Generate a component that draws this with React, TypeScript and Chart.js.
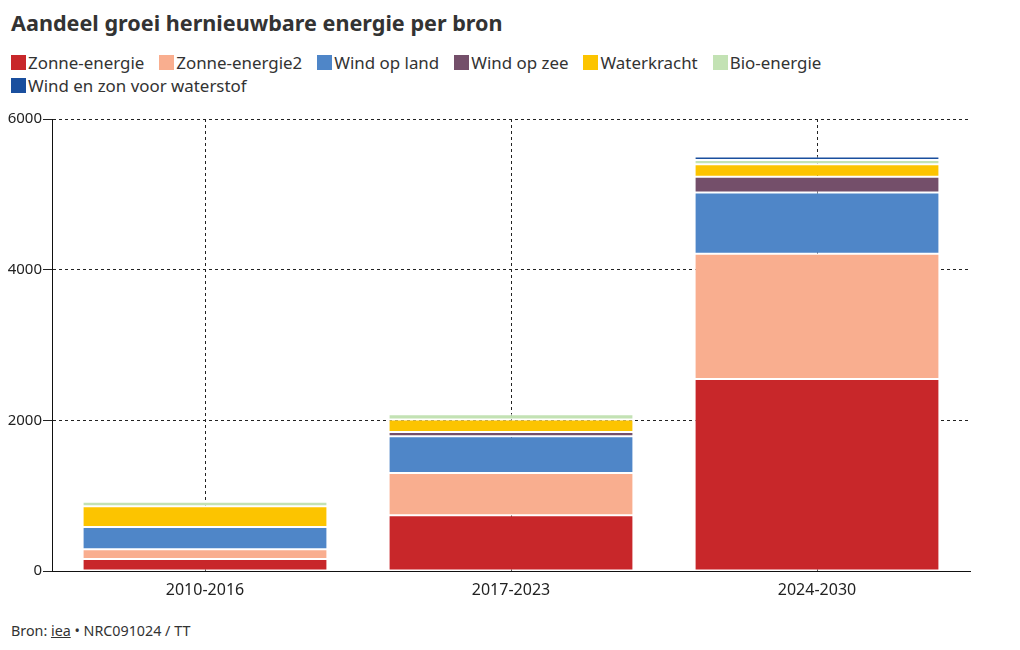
import React, { useEffect, useRef } from "react";
import { Chart, registerables } from "chart.js";

Chart.register(...registerables);

const categories = ["2010-2016", "2017-2023", "2024-2030"];
const seriesNames = [
  "Zonne-energie",
  "Zonne-energie2",
  "Wind op land",
  "Wind op zee",
  "Waterkracht",
  "Bio-energie",
  "Wind en zon voor waterstof",
];
const seriesColors = ["#c8272a", "#f9ae8f", "#4f86c8", "#744f6a", "#fcc400", "#c3e2b4", "#1a4f9e"];
const zonne = [160, 740, 2550];
const zonne2 = [130, 560, 1660];
const windLand = [295, 490, 815];
const windZee = [0, 55, 210];
const water = [275, 165, 165];
const bio = [60, 70, 55];
const waterstof = [0, 0, 48];
const seriesValues = [zonne, zonne2, windLand, windZee, water, bio, waterstof];
const yTicks = [0, 2000, 4000, 6000];

const FONT = "'Noto Sans', 'DejaVu Sans', sans-serif";
const TEXT = "#333333";

export default function App() {
  const ref = useRef<HTMLCanvasElement | null>(null);

  useEffect(() => {
    if (!ref.current) return;
    const chart = new Chart(ref.current, {
      type: "bar",
      data: {
        labels: categories,
        datasets: seriesNames.map((name, i) => ({
          label: name,
          data: seriesValues[i],
          backgroundColor: seriesColors[i],
          borderColor: "#ffffff",
          borderWidth: 1,
          borderSkipped: false,
          categoryPercentage: 1,
          barPercentage: 0.8,
        })),
      },
      options: {
        responsive: false,
        animation: false,
        maintainAspectRatio: false,
        layout: { padding: { top: 19, right: 50, left: 0, bottom: 0 } },
        plugins: {
          legend: { display: false },
          tooltip: { enabled: false },
          title: { display: false },
        },
        scales: {
          x: {
            stacked: true,
            z: 1,
            afterFit: (s: any) => {
              s.height = 39;
            },
            grid: {
              offset: false,
              color: "#222222",
              drawTicks: false,
              lineWidth: 1,
            },
            border: { display: true, color: "#111111", width: 1, dash: [3, 3] } as any,
            ticks: {
              color: "#222222",
              padding: 10,
              font: { family: FONT, size: 16 },
            },
          },
          y: {
            stacked: true,
            z: 1,
            min: 0,
            max: 6000,
            afterFit: (s: any) => {
              s.width = 52;
            },
            afterBuildTicks: (s: any) => {
              s.ticks = yTicks.map((v) => ({ value: v }));
            },
            grid: {
              color: "#222222",
              lineWidth: 1,
              drawTicks: true,
              tickLength: 9,
            },
            border: { display: true, color: "#111111", width: 1, dash: [3, 3] } as any,
            ticks: {
              color: "#222222",
              padding: 1,
              font: { family: FONT, size: 15 },
              callback: (v: any) => String(v),
            },
          },
        },
      },
      plugins: [
        {
          id: "dashGrid",
          beforeDraw: (c: any) => {
            ["x", "y"].forEach((k) => {
              const sc = c.scales[k];
              sc.options.grid.borderDash = [3, 3];
            });
          },
        },
        {
          id: "solidAxes",
          afterDraw: (c: any) => {
            const a = c.chartArea;
            const ctx = c.ctx;
            ctx.save();
            ctx.strokeStyle = "#111111";
            ctx.lineWidth = 1;
            ctx.setLineDash([]);
            ctx.beginPath();
            ctx.moveTo(Math.round(a.left) + 0.5, a.top);
            ctx.lineTo(Math.round(a.left) + 0.5, Math.round(a.bottom) + 0.5);
            ctx.lineTo(a.right, Math.round(a.bottom) + 0.5);
            ctx.stroke();
            ctx.restore();
          },
        },
      ],
    } as any);
    return () => chart.destroy();
  }, []);

  return (
    <div
      style={{
        position: "absolute",
        left: 0,
        top: 0,
        width: 1020,
        height: 650,
        background: "#ffffff",
        fontFamily: FONT,
        color: TEXT,
      }}
    >
      <div
        style={{
          position: "absolute",
          left: 11,
          top: 8,
          fontSize: 21.6,
          fontWeight: 700,
          lineHeight: "30px",
          whiteSpace: "nowrap",
        }}
      >
        Aandeel groei hernieuwbare energie per bron
      </div>
      <div
        style={{
          position: "absolute",
          left: 11,
          top: 51,
          width: 1000,
          display: "flex",
          flexWrap: "wrap",
          rowGap: 0,
        }}
      >
        {seriesNames.map((n, i) => (
          <div
            key={n}
            style={{
              display: "flex",
              alignItems: "center",
              marginRight: 15,
              height: 23,
              fontSize: 16.9,
              whiteSpace: "nowrap",
            }}
          >
            <span
              style={{
                display: "inline-block",
                width: 15,
                height: 15,
                background: seriesColors[i],
                marginRight: 2,
              }}
            />
            <span>{n}</span>
          </div>
        ))}
      </div>
      <canvas
        ref={ref}
        width={1020}
        height={510}
        style={{ position: "absolute", left: 0, top: 100, width: 1020, height: 510 }}
      />
      <div
        style={{
          position: "absolute",
          left: 11,
          top: 621,
          fontSize: 14.3,
          lineHeight: "20px",
          whiteSpace: "nowrap",
        }}
      >
        Bron: <span style={{ textDecoration: "underline" }}>iea</span> • NRC091024 / TT
      </div>
    </div>
  );
}
